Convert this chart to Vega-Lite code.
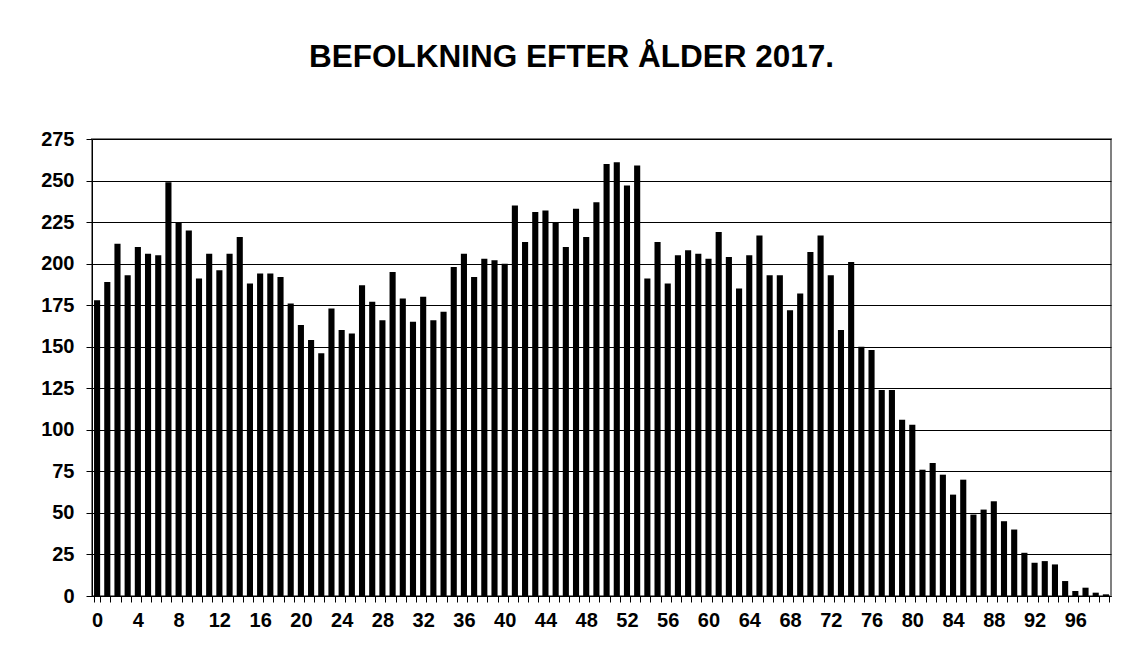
{
  "$schema": "https://vega.github.io/schema/vega-lite/v6.json",
  "width": 1019,
  "height": 457,
  "autosize": {"type": "none"},
  "padding": {"left": 92, "top": 139, "right": 17, "bottom": 76},
  "background": "white",
  "title": {
    "text": "BEFOLKNING EFTER ÅLDER 2017.",
    "font": "Liberation Sans",
    "fontSize": 31.5,
    "fontWeight": "bold",
    "color": "black",
    "anchor": "middle",
    "baseline": "alphabetic",
    "offset": 31,
    "dx": -30
  },
  "data": {
    "values": [
      {"age": 0, "count": 178}, {"age": 1, "count": 189}, {"age": 2, "count": 212}, {"age": 3, "count": 193},
      {"age": 4, "count": 210}, {"age": 5, "count": 206}, {"age": 6, "count": 205}, {"age": 7, "count": 249},
      {"age": 8, "count": 225}, {"age": 9, "count": 220}, {"age": 10, "count": 191}, {"age": 11, "count": 206},
      {"age": 12, "count": 196}, {"age": 13, "count": 206}, {"age": 14, "count": 216}, {"age": 15, "count": 188},
      {"age": 16, "count": 194}, {"age": 17, "count": 194}, {"age": 18, "count": 192}, {"age": 19, "count": 176},
      {"age": 20, "count": 163}, {"age": 21, "count": 154}, {"age": 22, "count": 146}, {"age": 23, "count": 173},
      {"age": 24, "count": 160}, {"age": 25, "count": 158}, {"age": 26, "count": 187}, {"age": 27, "count": 177},
      {"age": 28, "count": 166}, {"age": 29, "count": 195}, {"age": 30, "count": 179}, {"age": 31, "count": 165},
      {"age": 32, "count": 180}, {"age": 33, "count": 166}, {"age": 34, "count": 171}, {"age": 35, "count": 198},
      {"age": 36, "count": 206}, {"age": 37, "count": 192}, {"age": 38, "count": 203}, {"age": 39, "count": 202},
      {"age": 40, "count": 200}, {"age": 41, "count": 235}, {"age": 42, "count": 213}, {"age": 43, "count": 231},
      {"age": 44, "count": 232}, {"age": 45, "count": 225}, {"age": 46, "count": 210}, {"age": 47, "count": 233},
      {"age": 48, "count": 216}, {"age": 49, "count": 237}, {"age": 50, "count": 260}, {"age": 51, "count": 261},
      {"age": 52, "count": 247}, {"age": 53, "count": 259}, {"age": 54, "count": 191}, {"age": 55, "count": 213},
      {"age": 56, "count": 188}, {"age": 57, "count": 205}, {"age": 58, "count": 208}, {"age": 59, "count": 206},
      {"age": 60, "count": 203}, {"age": 61, "count": 219}, {"age": 62, "count": 204}, {"age": 63, "count": 185},
      {"age": 64, "count": 205}, {"age": 65, "count": 217}, {"age": 66, "count": 193}, {"age": 67, "count": 193},
      {"age": 68, "count": 172}, {"age": 69, "count": 182}, {"age": 70, "count": 207}, {"age": 71, "count": 217},
      {"age": 72, "count": 193}, {"age": 73, "count": 160}, {"age": 74, "count": 201}, {"age": 75, "count": 150},
      {"age": 76, "count": 148}, {"age": 77, "count": 124}, {"age": 78, "count": 124}, {"age": 79, "count": 106},
      {"age": 80, "count": 103}, {"age": 81, "count": 76}, {"age": 82, "count": 80}, {"age": 83, "count": 73},
      {"age": 84, "count": 61}, {"age": 85, "count": 70}, {"age": 86, "count": 49}, {"age": 87, "count": 52},
      {"age": 88, "count": 57}, {"age": 89, "count": 45}, {"age": 90, "count": 40}, {"age": 91, "count": 26},
      {"age": 92, "count": 20}, {"age": 93, "count": 21}, {"age": 94, "count": 19}, {"age": 95, "count": 9},
      {"age": 96, "count": 3}, {"age": 97, "count": 5}, {"age": 98, "count": 2}, {"age": 99, "count": 1}
    ]
  },
  "mark": {"type": "bar", "color": "black"},
  "encoding": {
    "x": {
      "field": "age",
      "type": "ordinal",
      "sort": "ascending",
      "scale": {"paddingInner": 0.4, "paddingOuter": 0.2},
      "axis": {
        "title": null,
        "labelAngle": 0,
        "labelExpr": "datum.value % 4 === 0 ? datum.label : ''",
        "labelOverlap": false,
        "tickBand": "extent",
        "tickSize": 6,
        "tickColor": "black",
        "domainColor": "black",
        "labelPadding": 8,
        "labelFont": "Liberation Sans",
        "labelFontSize": 20,
        "labelFontWeight": "bold",
        "labelColor": "black",
        "grid": false
      }
    },
    "y": {
      "field": "count",
      "type": "quantitative",
      "scale": {"domain": [0, 275], "nice": false},
      "axis": {
        "title": null,
        "values": [0, 25, 50, 75, 100, 125, 150, 175, 200, 225, 250, 275],
        "tickSize": 6,
        "tickColor": "black",
        "domainColor": "black",
        "labelPadding": 12,
        "labelFont": "Liberation Sans",
        "labelFontSize": 20,
        "labelFontWeight": "bold",
        "labelColor": "black",
        "grid": true,
        "gridColor": "black",
        "gridWidth": 1,
        "gridOpacity": 1
      }
    }
  },
  "config": {
    "view": {"stroke": "#808080", "strokeWidth": 2}
  }
}
